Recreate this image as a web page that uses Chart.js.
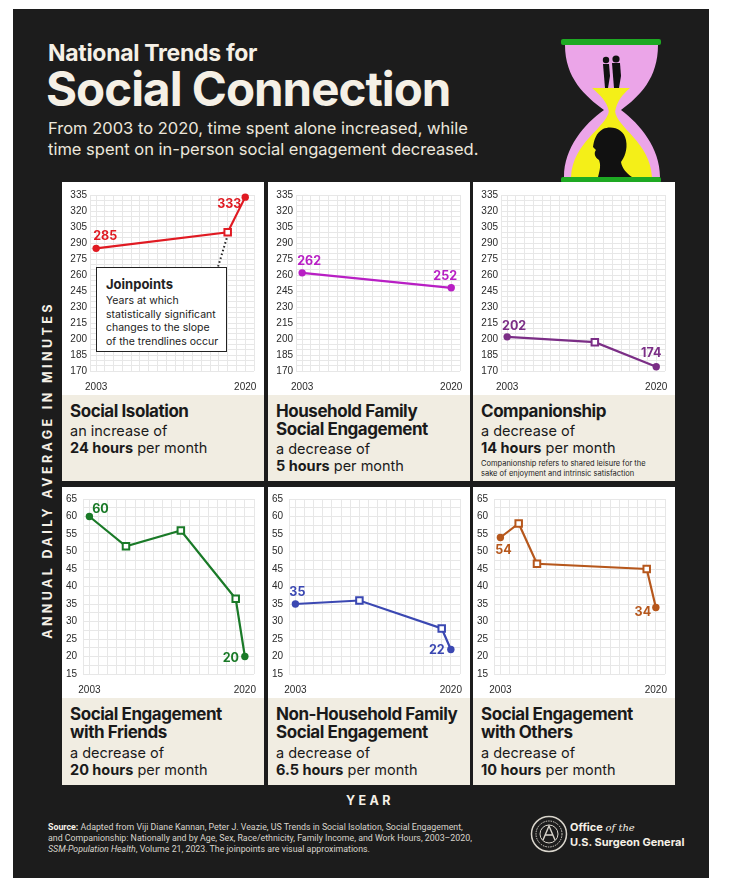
<!DOCTYPE html>
<html>
<head>
<meta charset="utf-8">
<script src="https://cdn.jsdelivr.net/npm/chart.js@4.4.1/dist/chart.umd.min.js"></script>
<style>
html,body{margin:0;padding:0;background:#fff}
body{width:730px;height:883px;position:relative;overflow:hidden;font-family:Inter,"Noto Sans",sans-serif}
#bg{position:absolute;left:13px;top:9px;width:696px;height:869px;background:#1c1c1c}
.t{position:absolute;color:#f5f0e6;white-space:nowrap}
#h1{left:48px;top:39px;font-size:23px;font-weight:700;letter-spacing:-0.3px}
#h2{left:46px;top:60px;font-size:47.5px;font-weight:700;letter-spacing:-1px}
#sub{left:48px;top:118px;font-size:16.5px;line-height:21px;color:#ece7dc}
.plot{position:absolute;width:202px;background:#fff}
.cap{position:absolute;width:202px;background:#f1ede2;box-sizing:border-box;padding:7px 8px 0 8px;color:#1a1a1a}
.cap h3{margin:0;font-size:17px;line-height:18px;font-weight:700;letter-spacing:-0.45px;white-space:nowrap}
.cap p{margin:3px 0 0 0;font-size:14.5px;line-height:16.5px;white-space:nowrap}
.cap p b{font-weight:700}
.cap small{display:block;margin-top:3px;font-size:7.5px;line-height:10px;white-space:nowrap}
#callout{position:absolute;left:96px;top:267px;width:131px;height:85px;border:1.5px solid #222;background:#fff;padding:0 0 0 9px;box-sizing:border-box;color:#222}
#callout b{display:block;font-size:13px;margin-top:8px;line-height:16px}
#callout span{display:block;font-size:10.5px;line-height:13.5px;margin-top:2px}
#ylab{position:absolute;left:47px;top:470px;transform:translate(-50%,-50%) rotate(-90deg);color:#f5f0e6;font-weight:700;font-size:12.5px;letter-spacing:3.4px;white-space:nowrap}
#xlab{position:absolute;left:370px;top:800px;transform:translate(-50%,-50%);color:#f5f0e6;font-weight:700;font-size:12.5px;letter-spacing:3.4px}
#src{position:absolute;left:48px;top:822px;font-family:Roboto,sans-serif;font-size:8.8px;line-height:11px;color:#d9d5cc;white-space:nowrap}
#src b{color:#f5f0e6}
#osg{position:absolute;left:570px;top:820px;color:#f5f0e6;font-weight:700;font-size:11px;line-height:15px;white-space:nowrap}
#osg i{font-family:"DejaVu Serif",serif;font-weight:400;font-size:10px}
</style>
</head>
<body>
<div id="bg"></div>

<div class="t" id="h1">National Trends for</div>
<div class="t" id="h2">Social Connection</div>
<div class="t" id="sub">From 2003 to 2020, time spent alone increased, while<br>time spent on in-person social engagement decreased.</div>

<svg style="position:absolute;left:0;top:0" width="730" height="200" viewBox="0 0 730 200">
  <path d="M565,45 L658,45 C658,78 640,96 621,110 C640,124 660,148 660,177 L564,177 C564,148 584,124 604,110 C585,96 565,78 565,45 Z" fill="#eba5e8"/>
  <path d="M592,88 L630,88 C622,95 617,101 615,112 L609,112 C607,101 600,95 592,88 Z" fill="#f4ef18"/>
  <path d="M609,111 L615,111 C617,128 650,142 652,177 L571,177 C573,142 606,128 609,111 Z" fill="#f4ef18"/>
  <path d="M598,177 C600,170 601,165 599,160 C594,157 594,152 596,150 L593,147 C594,140 596,133 603,129 C612,125 624,129 626,140 C628,150 624,158 621,162 C622,168 626,173 632,177 Z" fill="#111"/>
  <circle cx="606" cy="60" r="3.2" fill="#111"/>
  <path d="M603,64 L609,64 L610,76 L608,88 L605,88 L604,76 Z" fill="#111"/>
  <circle cx="616" cy="59" r="3.6" fill="#111"/>
  <path d="M612,63 L620,63 L621,76 L619,88 L614,88 L613,76 Z" fill="#111"/>
  <rect x="561" y="39" width="100" height="6" rx="2" fill="#1ea923"/>
  <rect x="561" y="177" width="100" height="6" rx="2" fill="#1ea923"/>
</svg>

<div id="ylab">ANNUAL DAILY AVERAGE IN MINUTES</div>

<div class="plot" style="left:62px;top:182px;height:213px"><canvas id="c1" width="202" height="213"></canvas></div>
<div class="plot" style="left:268px;top:182px;height:213px"><canvas id="c2" width="202" height="213"></canvas></div>
<div class="plot" style="left:473px;top:182px;height:213px"><canvas id="c3" width="202" height="213"></canvas></div>
<div class="plot" style="left:62px;top:487px;height:211px"><canvas id="c4" width="202" height="211"></canvas></div>
<div class="plot" style="left:268px;top:487px;height:211px"><canvas id="c5" width="202" height="211"></canvas></div>
<div class="plot" style="left:473px;top:487px;height:211px"><canvas id="c6" width="202" height="211"></canvas></div>

<div id="callout"><b>Joinpoints</b><span>Years at which<br>statistically significant<br>changes to the slope<br>of the trendlines occur</span></div>

<div class="cap" style="left:62px;top:395px;height:86px"><h3>Social Isolation</h3><p>an increase of<br><b>24 hours</b> per month</p></div>
<div class="cap" style="left:268px;top:395px;height:86px"><h3>Household Family<br>Social Engagement</h3><p>a decrease of<br><b>5 hours</b> per month</p></div>
<div class="cap" style="left:473px;top:395px;height:86px"><h3>Companionship</h3><p>a decrease of<br><b>14 hours</b> per month</p><small>Companionship refers to shared leisure for the<br>sake of enjoyment and intrinsic satisfaction</small></div>
<div class="cap" style="left:62px;top:698px;height:87px"><h3>Social Engagement<br>with Friends</h3><p style="margin-top:4px">a decrease of<br><b>20 hours</b> per month</p></div>
<div class="cap" style="left:268px;top:698px;height:87px"><h3>Non-Household Family<br>Social Engagement</h3><p style="margin-top:4px">a decrease of<br><b>6.5 hours</b> per month</p></div>
<div class="cap" style="left:473px;top:698px;height:87px"><h3>Social Engagement<br>with Others</h3><p style="margin-top:4px">a decrease of<br><b>10 hours</b> per month</p></div>

<div id="xlab">YEAR</div>

<div id="src"><b>Source:</b> Adapted from Viji Diane Kannan, Peter J. Veazie, US Trends in Social Isolation, Social Engagement,<br>and Companionship: Nationally and by Age, Sex, Race/ethnicity, Family Income, and Work Hours, 2003–2020,<br><i>SSM-Population Health</i>, Volume 21, 2023. The joinpoints are visual approximations.</div>

<svg style="position:absolute;left:530px;top:815px" width="38" height="38" viewBox="0 0 38 38">
  <circle cx="19" cy="19" r="17.5" fill="none" stroke="#d8d4cb" stroke-width="1.5"/>
  <circle cx="19" cy="19" r="13" fill="none" stroke="#d8d4cb" stroke-width="1" stroke-dasharray="1.5 1"/>
  <circle cx="19" cy="19" r="9" fill="none" stroke="#d8d4cb" stroke-width="1"/>
  <path d="M13,25 L19,11 L25,25 M15,20 L23,20" fill="none" stroke="#d8d4cb" stroke-width="1.4"/>
</svg>
<div id="osg">Office <i>of the</i><br>U.S. Surgeon General</div>

<script>
// the two years that get a label on every panel
const xTickYears = [2003, 2020];

// top row, minutes per day
const topTicks = [170, 185, 200, 215, 230, 245, 260, 275, 290, 305, 320, 335];
const isolationYears = [2003, 2018, 2020];
const isolationMinutes = [285, 300, 333];
const isolationLabels = ['285', '333'];

const householdYears = [2003, 2020];
const householdMinutes = [262, 248];
const householdLabels = ['262', '252'];

const companionYears = [2003, 2013, 2020];
const companionMinutes = [202, 197, 174];
const companionLabels = ['202', '174'];

// bottom row
const bottomTicks = [15, 20, 25, 30, 35, 40, 45, 50, 55, 60, 65];
const friendsYears = [2003, 2007, 2013, 2019, 2020];
const friendsMinutes = [60, 51.5, 56, 36.5, 20];
const friendsLabels = ['60', '20'];

const nonHouseholdYears = [2003, 2010, 2019, 2020];
const nonHouseholdMinutes = [35, 36, 28, 22];
const nonHouseholdLabels = ['35', '22'];

const othersYears = [2003, 2005, 2007, 2019, 2020];
const othersMinutes = [54, 58, 46.5, 45, 34];
const othersLabels = ['54', '34'];

// value labels next to first/last point
const endLabels = {
  id: 'endLabels',
  afterDatasetsDraw(chart, args, opts){
    const pts = chart.getDatasetMeta(0).data;
    const ends = [pts[0], pts[pts.length-1]];
    const ctx = chart.ctx;
    ctx.save();
    ctx.font = '700 12.5px Inter';
    ctx.fillStyle = opts.color; ctx.textAlign = 'center'; ctx.textBaseline = 'middle';
    ends.forEach((el,i)=>ctx.fillText(opts.texts[i], el.x + opts.offsets[i][0], el.y + opts.offsets[i][1]));
    ctx.restore();
  }
};

// dotted pointer from the first joinpoint down to the callout box
const calloutLine = {
  id: 'calloutLine',
  afterDatasetsDraw(chart){
    const el = chart.getDatasetMeta(0).data[1];
    const ctx = chart.ctx;
    ctx.save();
    ctx.strokeStyle = '#222'; ctx.lineWidth = 2; ctx.setLineDash([1.5, 2.5]);
    ctx.beginPath(); ctx.moveTo(el.x - 1, el.y + 6); ctx.lineTo(el.x - 10, 86); ctx.stroke();
    ctx.restore();
  }
};

const TOP = {yMin:170, yMax:335, step:5, ticks:topTicks, padTop:13, padRight:7, yw:28, ypad:3, xh:24, xpad:10};
const BOTTOM = {yMin:15, yMax:65, step:2.5, ticks:bottomTicks, padTop:10, padRight:7, yw:21, ypad:6, xh:24, xpad:10};
const GRID = '#e7e7e7';

function makeChart(id, years, minutes, labels, color, row, offsets, extra){
  const pts = years.map((y,i)=>({x:y, y:minutes[i]}));
  const last = pts.length - 1;
  const isEnd = i => i === 0 || i === last;
  return new Chart(document.getElementById(id), {
    type: 'line',
    data: {datasets: [{
      data: pts, borderColor: color, borderWidth: 2.2, tension: 0, clip: false,
      pointStyle: pts.map((p,i)=>isEnd(i) ? 'circle' : 'rect'),
      pointRadius: pts.map((p,i)=>isEnd(i) ? 3.7 : 4.6),
      pointBackgroundColor: pts.map((p,i)=>isEnd(i) ? color : '#fff'),
      pointBorderColor: color,
      pointBorderWidth: pts.map((p,i)=>isEnd(i) ? 0 : 2)
    }]},
    options: {
      responsive: false, animation: false, events: [],
      layout: {padding: {top: row.padTop, right: row.padRight, left: 0, bottom: 0}},
      plugins: {legend: {display: false}, tooltip: {enabled: false},
        endLabels: {texts: labels, offsets: offsets, color: color}},
      scales: {
        x: {type: 'linear', min: 2002.3, max: 2021,
          afterFit: s => { s.height = row.xh; },
          grid: {color: GRID, drawTicks: false}, border: {display: false},
          ticks: {stepSize: 1, includeBounds: false, autoSkip: false, maxRotation: 0, padding: row.xpad, color: '#2a2a2a',
            font: {family: 'Liberation Sans', size: 10},
            callback: v => xTickYears.includes(v) ? String(v) : ''}},
        y: {min: row.yMin, max: row.yMax,
          afterFit: s => { s.width = row.yw; },
          grid: {color: GRID, drawTicks: false}, border: {display: true, color: GRID},
          ticks: {stepSize: row.step, autoSkip: false, padding: row.ypad, color: '#2a2a2a',
            font: {family: 'Liberation Sans', size: 10},
            callback: v => row.ticks.includes(v) ? String(v) : ''}}
      }
    },
    plugins: [endLabels].concat(extra || [])
  });
}

makeChart('c1', isolationYears, isolationMinutes, isolationLabels, '#e01a22', TOP, [[9,-12],[-16,7]], [calloutLine]);
makeChart('c2', householdYears, householdMinutes, householdLabels, '#b81fc4', TOP, [[7,-12],[-6,-12]]);
makeChart('c3', companionYears, companionMinutes, companionLabels, '#7b2e86', TOP, [[7,-11],[-5,-13]]);
makeChart('c4', friendsYears, friendsMinutes, friendsLabels, '#1a7a28', BOTTOM, [[11,-7],[-14,2]]);
makeChart('c5', nonHouseholdYears, nonHouseholdMinutes, nonHouseholdLabels, '#3b48b2', BOTTOM, [[2,-12],[-14,1]]);
makeChart('c6', othersYears, othersMinutes, othersLabels, '#b6571c', BOTTOM, [[3,13],[-13,5]]);
</script>
</body>
</html>
